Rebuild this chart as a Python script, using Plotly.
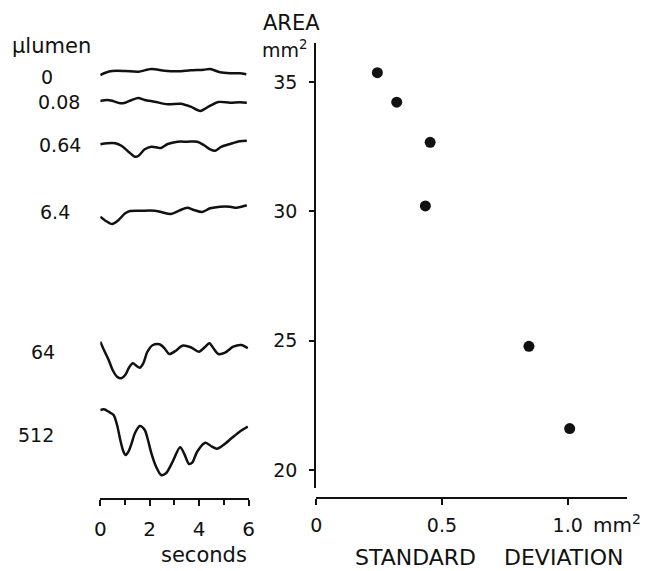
import plotly.graph_objects as go

W, H = 663, 571
def fx(px): return px / W
def fy(py): return 1 - py / H

# ---------------- data ----------------
# Right panel: area vs standard deviation
std_dev = [0.243, 0.320, 0.453, 0.434, 0.846, 1.008]
area = [35.36, 34.22, 32.67, 30.21, 24.78, 21.60]

# Left panel: light levels (µlumen) and recorded traces (time s, deflection a.u.)
light_labels = ["0", "0.08", "0.64", "6.4", "64", "512"]

t_0 = [0.0, 0.21, 0.48, 1.01, 1.54, 2.07, 2.60, 3.13, 3.66, 4.19, 4.45, 4.85, 5.25, 5.64, 5.91]
v_0 = [-3.0, -0.7, 1.0, 1.0, 0.3, 3.0, 1.3, 0.7, 1.7, 2.3, 3.0, -0.3, -1.3, -1.3, -2.3]

t_008 = [0.0, 0.28, 0.48, 0.81, 1.01, 1.27, 1.54, 1.80, 2.20, 2.73, 3.26, 3.66, 4.05, 4.38, 4.78, 5.25, 5.64, 5.93]
v_008 = [-1.0, 0.0, -0.7, -3.3, -2.7, 0.0, 2.0, 0.0, -1.7, -4.3, -3.7, -6.7, -11.0, -6.7, -2.0, -2.7, -2.3, -2.7]

t_064 = [0.0, 0.28, 0.61, 0.87, 1.14, 1.40, 1.54, 1.80, 2.07, 2.33, 2.46, 2.73, 3.13, 3.52, 3.92, 4.19, 4.45, 4.65, 4.91, 5.25, 5.64, 5.93]
v_064 = [-0.3, 0.7, 0.7, -2.0, -7.7, -12.7, -12.0, -5.3, -2.7, -3.7, -4.0, 0.0, 2.3, 2.3, 2.3, -1.0, -5.3, -6.7, -2.7, 0.0, 2.7, 3.3]

t_64l = [0.0, 0.21, 0.48, 0.74, 1.01, 1.21, 1.67, 2.20, 2.46, 2.86, 3.19, 3.52, 3.79, 4.12, 4.45, 4.85, 5.25, 5.51, 5.93]
v_64l = [-5.7, -9.7, -13.0, -9.0, -2.3, 0.0, 0.3, 0.3, -1.0, -3.0, 0.3, 3.3, 1.0, -1.0, 2.7, 4.3, 4.3, 3.3, 5.7]

t_64 = [0.0, 0.15, 0.34, 0.50, 0.68, 0.85, 1.01, 1.17, 1.32, 1.47, 1.60, 1.74, 1.91, 2.13, 2.40, 2.60, 2.79, 3.06, 3.32, 3.66, 3.99, 4.25, 4.42, 4.58, 4.78, 5.05, 5.38, 5.71, 5.97]
v_64 = [6.3, -2.0, -12.0, -22.0, -28.7, -30.3, -27.0, -19.3, -15.3, -18.0, -19.7, -15.3, -3.7, 3.0, 3.7, -0.3, -6.0, -2.7, 2.3, 0.7, -3.7, 1.3, 4.7, -0.3, -6.0, -4.7, 1.3, 3.0, -0.3]

t_512 = [0.0, 0.15, 0.34, 0.54, 0.68, 0.81, 0.94, 1.03, 1.14, 1.27, 1.40, 1.60, 1.80, 1.93, 2.07, 2.26, 2.46, 2.66, 2.93, 3.23, 3.39, 3.59, 3.72, 3.92, 4.25, 4.52, 4.72, 4.98, 5.31, 5.64, 5.97]
v_512 = [0.0, 0.7, -1.7, -5.0, -15.0, -30.0, -41.7, -45.0, -41.7, -33.3, -23.3, -16.0, -20.0, -30.0, -43.3, -56.7, -65.0, -63.3, -51.7, -37.3, -43.3, -54.0, -52.7, -41.7, -32.7, -36.7, -38.7, -35.0, -28.3, -21.7, -16.7]

traces_t = [t_0, t_008, t_064, t_64l, t_64, t_512]
traces_v = [v_0, v_008, v_064, v_64l, v_64, v_512]

# display layout for the stacked traces (vertical offsets, px-like units on the hidden axis)
trace_offsets = [426, 398, 354, 287, 150, 88]
label_pos = [(42, 77), (54, 102), (55, 145), (50, 212), (38, 352), (31, 435)]

x_ticks = [0, 0.5, 1.0]
x_ticktext = ["0", "0.5", "1.0"]
y_ticks = [20, 25, 30, 35]
sec_ticks = [0, 2, 4, 6]

FONT = "DejaVu Sans"
BLACK = "#111111"
NB = "\u00a0"

fig = go.Figure()

for tt, vv, off in zip(traces_t, traces_v, trace_offsets):
    fig.add_trace(go.Scatter(
        x=tt, y=[v + off for v in vv], mode="lines",
        line=dict(color=BLACK, width=2.5, shape="spline", smoothing=0.8),
        xaxis="x2", yaxis="y2", showlegend=False, hoverinfo="skip"))

fig.add_trace(go.Scatter(
    x=std_dev, y=area, mode="markers",
    marker=dict(color=BLACK, size=11),
    xaxis="x", yaxis="y", showlegend=False))

fig.update_layout(
    width=W, height=H,
    margin=dict(l=0, r=0, t=0, b=0),
    paper_bgcolor="white", plot_bgcolor="white",
    font=dict(family=FONT, color=BLACK, size=19),
    xaxis=dict(
        domain=[fx(316), fx(632)], range=[0, 316 / 256],
        anchor="free", position=fy(498),
        showline=True, linecolor=BLACK, linewidth=2,
        ticks="outside", ticklen=6, tickwidth=2, tickcolor=BLACK,
        tickvals=x_ticks, ticktext=x_ticktext, ticklabelstandoff=4,
        showgrid=False, zeroline=False, tickfont=dict(size=19)),
    yaxis=dict(
        domain=[fy(488), fy(43)], range=[19.304, 36.508],
        anchor="x",
        showline=True, linecolor=BLACK, linewidth=2,
        ticks="outside", ticklen=5, tickwidth=2, tickcolor=BLACK,
        tickvals=y_ticks, ticklabelstandoff=8,
        showgrid=False, zeroline=False, tickfont=dict(size=19)),
    xaxis2=dict(
        domain=[fx(96), fx(247)], range=[0, 6], anchor="y2",
        showline=True, linecolor=BLACK, linewidth=2,
        ticks="outside", ticklen=6, tickwidth=2, tickcolor=BLACK,
        tickvals=sec_ticks, ticklabelstandoff=6,
        minor=dict(dtick=1, tick0=0, ticks="outside", ticklen=5,
                   tickwidth=2, tickcolor=BLACK, showgrid=False),
        showgrid=False, zeroline=False, tickfont=dict(size=20)),
    yaxis2=dict(
        domain=[fy(498), fy(40)], range=[0, 458], anchor="x2",
        visible=False, showgrid=False, zeroline=False),
)

ann = []
def add(text, x, y, size=19, xanchor="center"):
    ann.append(dict(text=text, x=fx(x), y=fy(y), xref="paper", yref="paper",
                    xanchor=xanchor, yanchor="middle", showarrow=False,
                    font=dict(family=FONT, size=size, color=BLACK)))

add("µlumen", 4, 46, size=21, xanchor="left")
for lab, (lx, ly) in zip(light_labels, label_pos):
    add(lab, lx, ly, size=19)
add("AREA", 260, 23, size=21, xanchor="left")
add("mm<sup>2</sup>", 259, 49, size=19, xanchor="left")
add("mm<sup>2</sup>", 596, 524, size=20, xanchor="left")
add("seconds", 202, 555, size=21)
add("STANDARD" + NB * 4 + "DEVIATION", 492, 557, size=22)
fig.update_layout(annotations=ann)

fig.write_html("out.html",
               config={"displayModeBar": False},
               post_script="document.body.style.margin='0';document.body.style.overflow='hidden';")
